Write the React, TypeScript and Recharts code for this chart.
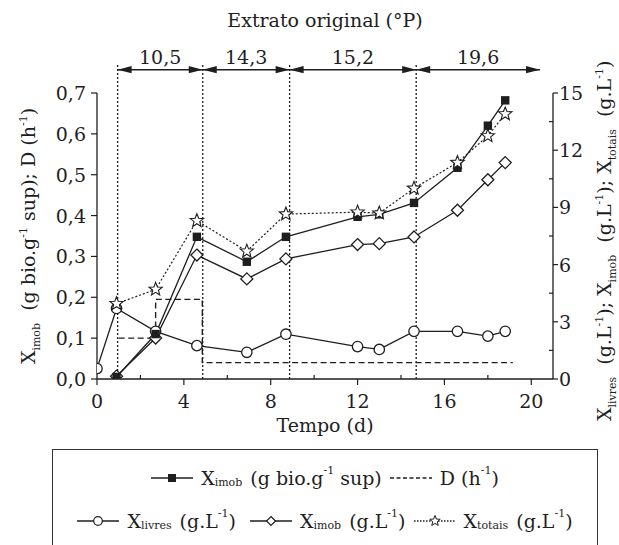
import React from 'react';
import { ComposedChart, Line, XAxis, YAxis, ReferenceLine, Label } from 'recharts';

// ---- data ----
const tLivres = [0, 0.9, 2.7, 4.6, 6.9, 8.7, 12, 13, 14.6, 16.6, 18, 18.8];
const xLivres = [0.55, 3.7, 2.5, 1.75, 1.4, 2.35, 1.7, 1.55, 2.5, 2.5, 2.25, 2.5];
const tImob = [0.9, 2.7, 4.6, 6.9, 8.7, 12, 13, 14.6, 16.6, 18, 18.8];
const xImobGL = [0.15, 2.15, 6.5, 5.25, 6.3, 7.05, 7.1, 7.45, 8.85, 10.45, 11.35];
const xImobG = [0.005, 0.11, 0.348, 0.287, 0.348, 0.397, 0.403, 0.431, 0.517, 0.62, 0.682];
const xTotais = [3.95, 4.7, 8.3, 6.7, 8.65, 8.75, 8.7, 10.0, 11.35, 12.75, 13.9];
const tD = [1.0, 2.7, 4.85, 19.15];
const dVals = [0.1, 0.195, 0.04, 0.04];
const extratoBounds = [0.95, 4.87, 8.87, 14.7, 20.4];
const extratoLabels = ['10,5', '14,3', '15,2', '19,6'];
const arrowLevel = 0.757;
const dividerTop = 0.77;
const xTicks = [0, 2, 4, 6, 8, 10, 12, 14, 16, 18, 20];
const leftTicks = [0, 0.05, 0.1, 0.15, 0.2, 0.25, 0.3, 0.35, 0.4, 0.45, 0.5, 0.55, 0.6, 0.65, 0.7];
const rightTicks = [0, 1.5, 3, 4.5, 6, 7.5, 9, 10.5, 12, 13.5, 15];

const livresData = tLivres.map((t, i) => ({ t, v: xLivres[i] }));
const imobGLData = tImob.map((t, i) => ({ t, v: xImobGL[i] }));
const imobGData = tImob.map((t, i) => ({ t, v: xImobG[i] }));
const totaisData = tImob.map((t, i) => ({ t, v: xTotais[i] }));
const dData = tD.map((t, i) => ({ t, v: dVals[i] }));

const FONT = "'DejaVu Serif', serif";
const INK = '#1e1e1e';
const FS = 19;

// ---- markers ----
const starPath = (cx: number, cy: number, R: number, r: number) => {
  const pts: string[] = [];
  for (let i = 0; i < 10; i++) {
    const a = -Math.PI / 2 + (i * Math.PI) / 5;
    const rad = i % 2 === 0 ? R : r;
    pts.push(`${(cx + rad * Math.cos(a)).toFixed(2)},${(cy + rad * Math.sin(a)).toFixed(2)}`);
  }
  return 'M' + pts.join('L') + 'Z';
};

const CircleDot = (p: any) => <circle key={p.key ?? p.index} cx={p.cx} cy={p.cy} r={5.2} fill="#fff" stroke={INK} strokeWidth={1.3} />;
const DiamondDot = (p: any) => (
  <path key={p.key ?? p.index} d={`M${p.cx},${p.cy - 6}L${p.cx + 6},${p.cy}L${p.cx},${p.cy + 6}L${p.cx - 6},${p.cy}Z`} fill="#fff" stroke={INK} strokeWidth={1.3} />
);
const SquareDot = (p: any) => <rect key={p.key ?? p.index} x={p.cx - 4.2} y={p.cy - 4.2} width={8.4} height={8.4} fill={INK} />;
const StarDot = (p: any) => <path key={p.key ?? p.index} d={starPath(p.cx, p.cy, 7, 3)} fill="#fff" stroke={INK} strokeWidth={1.1} />;

// ---- ticks ----
const near = (a: number, b: number) => Math.abs(a - b) < 1e-6;
const LeftTick = (p: any) => {
  const v = p.payload.value;
  const major = near(Math.round(v * 10), v * 10);
  return (
    <g>
      <line x1={p.x} x2={p.x - (major ? 6 : 4)} y1={p.y} y2={p.y} stroke={INK} strokeWidth={1.2} />
      {major && (
        <text x={p.x - 11} y={p.y + 7} textAnchor="end" fontFamily={FONT} fontSize={FS} fill={INK}>
          {v.toFixed(1).replace('.', ',')}
        </text>
      )}
    </g>
  );
};
const RightTick = (p: any) => {
  const v = p.payload.value;
  const major = near(Math.round(v / 3), v / 3);
  return (
    <g>
      <line x1={p.x} x2={p.x + (major ? 5 : -4)} y1={p.y} y2={p.y} stroke={INK} strokeWidth={1.2} />
      {major && (
        <text x={p.x + 6} y={p.y + 7} textAnchor="start" fontFamily={FONT} fontSize={FS} fill={INK}>
          {String(v)}
        </text>
      )}
    </g>
  );
};
const BottomTick = (p: any) => {
  const v = p.payload.value;
  const major = v % 4 === 0;
  return (
    <g>
      <line x1={p.x} x2={p.x} y1={p.y} y2={p.y + (major ? 6 : -4)} stroke={INK} strokeWidth={1.2} />
      {major && (
        <text x={p.x} y={p.y + 29} textAnchor="middle" fontFamily={FONT} fontSize={FS} fill={INK}>
          {String(v)}
        </text>
      )}
    </g>
  );
};

// ---- axis titles ----
const SUB = 11;
const LeftTitle = (props: any) => {
  const vb = props.viewBox;
  const x = vb.x + 35;
  const y = vb.y + vb.height / 2;
  return (
    <text transform={`rotate(-90, ${x}, ${y})`} x={x} y={y} textAnchor="middle" fontFamily={FONT} fontSize={FS} fill={INK}>
      <tspan>X</tspan>
      <tspan fontSize={SUB} dy={5}>imob</tspan>
      <tspan dy={-5}>{'\u00A0\u00A0(g bio.g'}</tspan>
      <tspan fontSize={SUB} dy={-8}>-1</tspan>
      <tspan dy={8}>{'\u00A0sup); D (h'}</tspan>
      <tspan fontSize={SUB} dy={-8}>-1</tspan>
      <tspan dy={8}>)</tspan>
    </text>
  );
};
const RightTitle = (props: any) => {
  const vb = props.viewBox;
  const x = vb.x + 58;
  const y = vb.y + vb.height + 42;
  return (
    <text transform={`rotate(-90, ${x}, ${y})`} x={x} y={y} textAnchor="start" fontFamily={FONT} fontSize={FS} fill={INK}>
      <tspan>X</tspan>
      <tspan fontSize={SUB} dy={5}>livres</tspan>
      <tspan dy={-5}>{'\u00A0\u00A0(g.L'}</tspan>
      <tspan fontSize={SUB} dy={-8}>-1</tspan>
      <tspan dy={8}>{'); X'}</tspan>
      <tspan fontSize={SUB} dy={5}>imob</tspan>
      <tspan dy={-5}>{'\u00A0\u00A0(g.L'}</tspan>
      <tspan fontSize={SUB} dy={-8}>-1</tspan>
      <tspan dy={8}>{'); X'}</tspan>
      <tspan fontSize={SUB} dy={5}>totais</tspan>
      <tspan dy={-5}>{'\u00A0\u00A0(g.L'}</tspan>
      <tspan fontSize={SUB} dy={-8}>-1</tspan>
      <tspan dy={8}>)</tspan>
    </text>
  );
};
const BottomTitle = (props: any) => {
  const vb = props.viewBox;
  return (
    <text x={vb.x + vb.width / 2} y={vb.y + 52.5} textAnchor="middle" fontFamily={FONT} fontSize={FS} fill={INK}>
      Tempo (d)
    </text>
  );
};

// ---- double arrow with label ----
const makeArrow = (label: string) => (p: any) => {
  const { x1, y1, x2, y2 } = p;
  const L = 14;
  const H = 3.6;
  return (
    <g>
      <line x1={x1} y1={y1} x2={x2} y2={y2} stroke={INK} strokeWidth={1.4} />
      <path d={`M${x1},${y1}L${x1 + L},${y1 - H}L${x1 + L},${y1 + H}Z`} fill={INK} />
      <path d={`M${x2},${y2}L${x2 - L},${y2 - H}L${x2 - L},${y2 + H}Z`} fill={INK} />
      <text x={(x1 + x2) / 2} y={y1 - 6} textAnchor="middle" fontFamily={FONT} fontSize={FS} fill={INK}>
        {label}
      </text>
    </g>
  );
};

// ---- legend ----
const Sub = ({ children }: any) => (
  <span style={{ fontSize: SUB, position: 'relative', top: 5, marginRight: 8 }}>{children}</span>
);
const Sup = ({ children }: any) => (
  <span style={{ fontSize: SUB, position: 'relative', top: -7 }}>{children}</span>
);
const Mark = ({ kind }: { kind: string }) => {
  const w = 42;
  const c = w / 2;
  const y = 8;
  let sym: any = null;
  let dash: string | undefined;
  if (kind === 'square') sym = <rect x={c - 4} y={y - 4} width={8} height={8} fill={INK} />;
  if (kind === 'circle') sym = <circle cx={c} cy={y} r={4.3} fill="#fff" stroke={INK} strokeWidth={1.2} />;
  if (kind === 'diamond') sym = <path d={`M${c},${y - 4.5}L${c + 4.5},${y}L${c},${y + 4.5}L${c - 4.5},${y}Z`} fill="#fff" stroke={INK} strokeWidth={1.2} />;
  if (kind === 'star') { sym = <path d={starPath(c, y, 5.5, 2.4)} fill="#fff" stroke={INK} strokeWidth={1} />; dash = '1.5 1.5'; }
  if (kind === 'dash') dash = '4 2.5';
  return (
    <svg width={w} height={16} style={{ display: 'inline-block', verticalAlign: 'middle', marginRight: 8 }}>
      <line x1={0} x2={w} y1={y} y2={y} stroke={INK} strokeWidth={1.4} strokeDasharray={dash} />
      {sym}
    </svg>
  );
};

const rowStyle: React.CSSProperties = {
  position: 'absolute',
  left: 0,
  width: '100%',
  display: 'flex',
  justifyContent: 'center',
  alignItems: 'center',
  whiteSpace: 'nowrap',
  lineHeight: '20px',
};

export default function App() {
  return (
    <div style={{ position: 'absolute', left: 0, top: 0, width: 619, height: 545, overflow: 'hidden', background: '#fff', fontFamily: FONT, color: INK }}>
      <div style={{ position: 'absolute', left: 0, width: 650, top: 8, textAlign: 'center', fontSize: FS, lineHeight: '24px' }}>
        Extrato original (°P)
      </div>
      <ComposedChart width={619} height={545} margin={{ top: 93, right: 6, bottom: 136, left: 0 }} style={{ position: 'absolute', left: 0, top: 0 }}>
        <XAxis
          type="number"
          dataKey="t"
          domain={[0, 21]}
          ticks={xTicks}
          height={30}
          tickLine={false}
          tickSize={0}
          tickMargin={0}
          tick={BottomTick}
          axisLine={{ stroke: INK, strokeWidth: 1.3 }}
          allowDataOverflow
        >
          <Label content={BottomTitle} />
        </XAxis>
        <YAxis
          yAxisId="left"
          orientation="left"
          type="number"
          domain={[0, 0.7]}
          ticks={leftTicks}
          width={97}
          tickLine={false}
          tickSize={0}
          tickMargin={0}
          tick={LeftTick}
          axisLine={{ stroke: INK, strokeWidth: 1.3 }}
          allowDataOverflow
        >
          <Label content={LeftTitle} />
        </YAxis>
        <YAxis
          yAxisId="right"
          orientation="right"
          type="number"
          domain={[0, 15]}
          ticks={rightTicks}
          width={60}
          tickLine={false}
          tickSize={0}
          tickMargin={0}
          tick={RightTick}
          axisLine={{ stroke: INK, strokeWidth: 1.3 }}
          allowDataOverflow
        >
          <Label content={RightTitle} />
        </YAxis>

        {extratoBounds.slice(0, 4).map((b) => (
          <ReferenceLine
            key={`div-${b}`}
            yAxisId="left"
            segment={[{ x: b, y: 0 }, { x: b, y: dividerTop }]}
            ifOverflow="visible"
            stroke={INK}
            strokeWidth={1.3}
            strokeDasharray="2 2"
          />
        ))}
        {extratoLabels.map((lab, i) => (
          <ReferenceLine
            key={`arr-${lab}`}
            yAxisId="left"
            segment={[{ x: extratoBounds[i], y: arrowLevel }, { x: extratoBounds[i + 1], y: arrowLevel }]}
            ifOverflow="visible"
            stroke={INK}
            shape={makeArrow(lab)}
          />
        ))}

        <Line data={dData} dataKey="v" yAxisId="left" type="stepAfter" stroke={INK} strokeWidth={1.4} strokeDasharray="6 3.5" dot={false} isAnimationActive={false} />
        <Line data={livresData} dataKey="v" yAxisId="right" type="linear" stroke={INK} strokeWidth={1.3} dot={CircleDot} isAnimationActive={false} />
        <Line data={imobGLData} dataKey="v" yAxisId="right" type="linear" stroke={INK} strokeWidth={1.3} dot={DiamondDot} isAnimationActive={false} />
        <Line data={imobGData} dataKey="v" yAxisId="left" type="linear" stroke={INK} strokeWidth={1.3} dot={SquareDot} isAnimationActive={false} />
        <Line data={totaisData} dataKey="v" yAxisId="right" type="linear" stroke={INK} strokeWidth={1.2} strokeDasharray="2 2" dot={StarDot} isAnimationActive={false} />
      </ComposedChart>

      <div style={{ position: 'absolute', left: 52, top: 449, width: 546, height: 120, border: `1.5px solid #333`, boxSizing: 'border-box', fontSize: FS }}>
        <div style={{ ...rowStyle, top: 18 }}>
          <Mark kind="square" />
          <span>X</span><Sub>imob</Sub><span>(g bio.g</span><Sup>-1</Sup><span>{'\u00A0sup)'}</span>
          <span style={{ width: 8 }} />
          <Mark kind="dash" />
          <span>D (h</span><Sup>-1</Sup><span>)</span>
        </div>
        <div style={{ ...rowStyle, top: 61 }}>
          <Mark kind="circle" />
          <span>X</span><Sub>livres</Sub><span>(g.L</span><Sup>-1</Sup><span>)</span>
          <span style={{ width: 14 }} />
          <Mark kind="diamond" />
          <span>X</span><Sub>imob</Sub><span>(g.L</span><Sup>-1</Sup><span>)</span>
          <span style={{ width: 8 }} />
          <Mark kind="star" />
          <span>X</span><Sub>totais</Sub><span>(g.L</span><Sup>-1</Sup><span>)</span>
        </div>
      </div>
    </div>
  );
}
